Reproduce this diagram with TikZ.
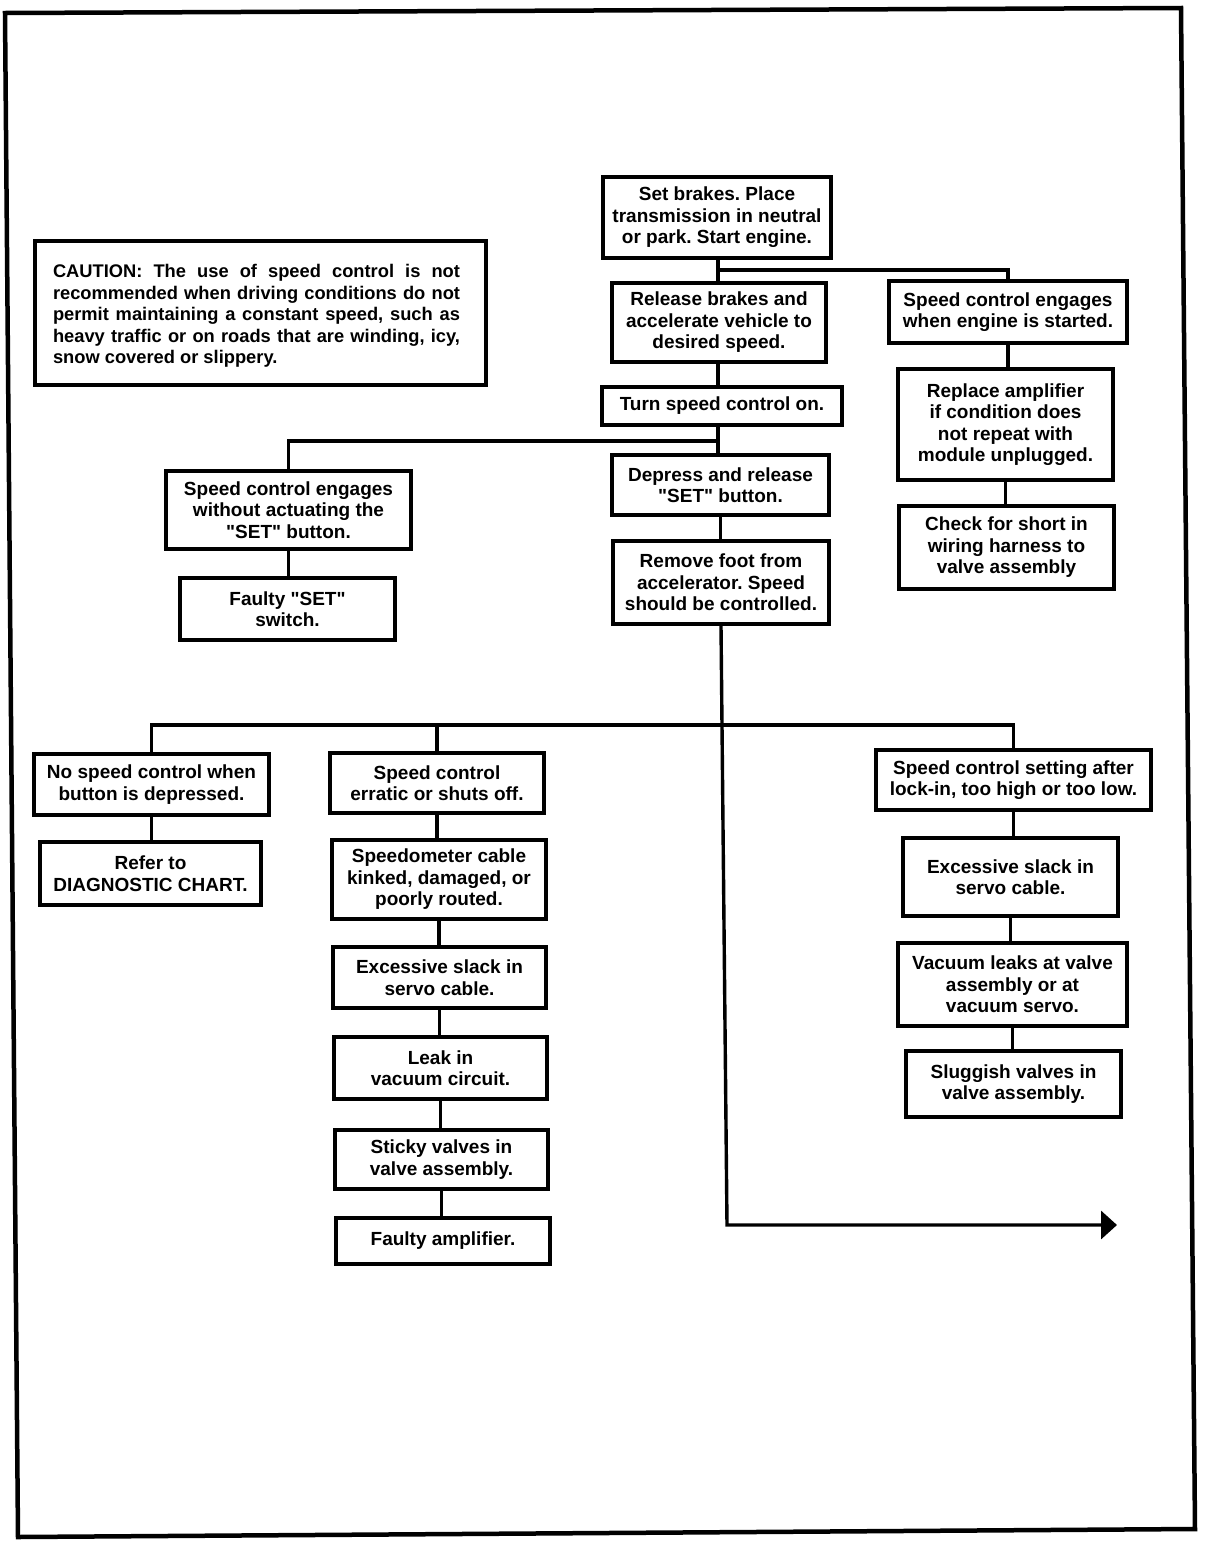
\documentclass[tikz,border=0pt]{standalone}
\usepackage{fontspec}
\newfontfamily\lsans{Liberation Sans}
\usetikzlibrary{arrows.meta}
\frenchspacing
\tikzset{
  box/.style={draw, line width=3.6pt, align=center, inner sep=0pt,
    font=\lsans\fontsize{19}{21.5}\selectfont\bfseries\frenchspacing},
  conn/.style={line width=3.4pt},
  frame/.style={line width=4.5pt, line join=miter}
}
\begin{document}
\begin{tikzpicture}[x=1pt, y=-1pt]
\useasboundingbox (0,0) rectangle (1216,1548);
% outer frame
\draw[frame] (5,13) -- (1181,8) -- (1195,1529) -- (18,1537) -- cycle;

% caution
\node[box, minimum width=451pt, minimum height=144pt] (caution) at (260.5,313) {};
\node[font=\lsans\fontsize{18.3}{21.5}\selectfont\bfseries\frenchspacing, text width=407pt, align=justify, inner sep=0pt] (cautiontext) at (256.5,316)
 {CAUTION: The use of speed control is not\linebreak recommended when driving conditions do not\linebreak permit maintaining a constant speed, such as\linebreak heavy traffic or on roads that are winding, icy,\linebreak snow covered or slippery.};

% top chain
\node[box, minimum width=228pt, minimum height=81pt] (start) at (717,217.5) {Set brakes. Place\\transmission in neutral\\or park. Start engine.};
\node[box, minimum width=214pt, minimum height=79pt] (release) at (719,322.5) {Release brakes and\\accelerate vehicle to\\desired speed.};
\node[box, minimum width=238pt, minimum height=62pt] (engages) at (1008,312) {Speed control engages\\when engine is started.};
\node[box, minimum width=240pt, minimum height=38pt] (turnon) at (722,406) {Turn speed control on.};
\node[box, minimum width=215pt, minimum height=111pt] (replace) at (1005.5,424.5) {Replace amplifier\\if condition does\\not repeat with\\module unplugged.};
\node[box, minimum width=215pt, minimum height=83pt] (check) at (1006.5,547.5) {Check for short in\\wiring harness to\\valve assembly};
\node[box, minimum width=245pt, minimum height=78pt] (woset) at (288.5,510) {Speed control engages\\without actuating the\\"SET" button.};
\node[box, minimum width=215pt, minimum height=62pt] (faultyset) at (287.5,609) {Faulty "SET"\\switch.};
\node[box, minimum width=217pt, minimum height=60pt] (depress) at (720.5,485) {Depress and release\\"SET" button.};
\node[box, minimum width=216pt, minimum height=83pt] (remove) at (721,582.5) {Remove foot from\\accelerator. Speed\\should be controlled.};

% bottom left
\node[box, minimum width=235pt, minimum height=61pt] (nospeed) at (151.5,784.5) {No speed control when\\button is depressed.};
\node[box, minimum width=221pt, minimum height=63pt] (refer) at (150.5,873.5) {Refer to\\DIAGNOSTIC CHART.};

% bottom middle
\node[box, minimum width=214pt, minimum height=60pt] (erratic) at (437,783) {Speed control\\erratic or shuts off.};
\node[box, minimum width=214pt, minimum height=79pt] (speedo) at (439,879.5) {Speedometer cable\\kinked, damaged, or\\poorly routed.};
\node[box, minimum width=213pt, minimum height=61pt] (slacka) at (439.5,977.5) {Excessive slack in\\servo cable.};
\node[box, minimum width=213pt, minimum height=62pt] (leak) at (440.5,1068) {Leak in\\vacuum circuit.};
\node[box, minimum width=213pt, minimum height=59pt] (sticky) at (441.5,1159.5) {Sticky valves in\\valve assembly.};
\node[box, minimum width=214pt, minimum height=46pt] (faultyamp) at (443,1241) {Faulty amplifier.};

% bottom right
\node[box, minimum width=275pt, minimum height=60pt] (setting) at (1013.5,780) {Speed control setting after\\lock-in, too high or too low.};
\node[box, minimum width=215pt, minimum height=78pt] (slackb) at (1010.5,877) {Excessive slack in\\servo cable.};
\node[box, minimum width=229pt, minimum height=83pt] (vacleak) at (1012.5,984.5) {Vacuum leaks at valve\\assembly or at\\vacuum servo.};
\node[box, minimum width=215pt, minimum height=66pt] (sluggish) at (1013.5,1084) {Sluggish valves in\\valve assembly.};

% junction coordinates
\coordinate (j1) at (718,270);
\coordinate (j2) at (718,441);
\coordinate (j3) at (721,725);
\coordinate (bend) at (727,1225);
\coordinate (arrowend) at (1117,1225);

% connectors top
\draw[conn] (start.south -| j1) -- (release.north -| j1);
\draw[conn] (j1) -| (engages.north);
\draw[conn] (release.south -| j1) -- (turnon.north -| j1);
\draw[conn] (turnon.south -| j2) -- (depress.north -| j2);
\draw[conn] (j2) -| (woset.north);
\draw[conn] (woset.south) -- (faultyset.north -| woset.south);
\draw[conn] (depress.south) -- (remove.north -| depress.south);
\draw[conn] (engages.south) -- (replace.north -| engages.south);
\draw[conn] (replace.south) -- (check.north -| replace.south);

% main line and arrow
\draw[conn, -{Triangle[length=16pt, width=28pt]}] (remove.south) -- (bend) -- (arrowend);

% lower branch
\draw[conn] (nospeed.north) |- (setting.north |- j3) -- (setting.north);
\draw[conn] (erratic.north) -- (erratic.north |- j3);

% chains
\draw[conn] (nospeed.south) -- (refer.north -| nospeed.south);
\draw[conn] (erratic.south) -- (speedo.north -| erratic.south);
\draw[conn] (speedo.south) -- (slacka.north -| speedo.south);
\draw[conn] (slacka.south) -- (leak.north -| slacka.south);
\draw[conn] (leak.south) -- (sticky.north -| leak.south);
\draw[conn] (sticky.south) -- (faultyamp.north -| sticky.south);
\draw[conn] (setting.south) -- (slackb.north -| setting.south);
\draw[conn] (slackb.south) -- (vacleak.north -| slackb.south);
\draw[conn] (vacleak.south) -- (sluggish.north -| vacleak.south);
\end{tikzpicture}
\end{document}
